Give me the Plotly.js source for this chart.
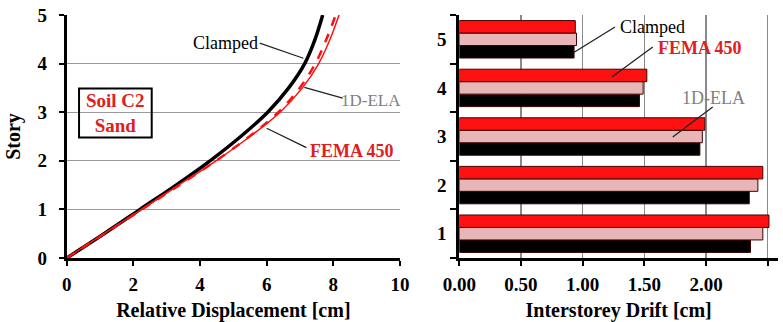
<!DOCTYPE html>
<html><head><meta charset="utf-8">
<script src="https://cdn.plot.ly/plotly-3.0.1.min.js"></script>
<style>html,body{margin:0;padding:0;background:#fff}#chart{width:783px;height:322px}</style>
</head><body><div id="chart"></div>
<script>
// Left panel: relative displacement profile
const stories = [0, 0.5, 1, 1.5, 2, 2.5, 3, 3.5, 4, 4.5, 5];
const dispClamped = [0, 1.12, 2.2, 3.28, 4.3, 5.22, 6.03, 6.66, 7.14, 7.45, 7.68];
const disp1DELA   = [0, 1.12, 2.24, 3.36, 4.48, 5.5, 6.4, 7.07, 7.56, 7.9, 8.17];
const dispFEMA    = [0, 1.13, 2.26, 3.38, 4.48, 5.48, 6.35, 6.99, 7.46, 7.79, 8.07];
// Right panel: interstorey drift
const storyLabels = ['1', '2', '3', '4', '5'];
const driftClamped = [2.36, 2.35, 1.95, 1.46, 0.93];
const drift1DELA   = [2.46, 2.42, 1.97, 1.49, 0.95];
const driftFEMA    = [2.51, 2.46, 1.99, 1.52, 0.94];
const driftTicks = [0, 0.5, 1.0, 1.5, 2.0, 2.5];
const driftTickText = ['0.00', '0.50', '1.00', '1.50', '2.00', '2.50'];

const F = 'Liberation Serif';
const RED = '#ff1010';
const PINK = '#e8b6b6';

const traces = [
  {x: dispClamped, y: stories, type: 'scatter', mode: 'lines', name: 'Clamped',
   line: {color: '#000', width: 3.5, shape: 'spline'}, xaxis: 'x', yaxis: 'y'},
  {x: disp1DELA, y: stories, type: 'scatter', mode: 'lines', name: '1D-ELA',
   line: {color: RED, width: 1.5, shape: 'spline'}, xaxis: 'x', yaxis: 'y'},
  {x: dispFEMA, y: stories, type: 'scatter', mode: 'lines', name: 'FEMA 450',
   line: {color: RED, width: 2.5, dash: 'dash', shape: 'spline'}, xaxis: 'x', yaxis: 'y'},
  {x: driftClamped, y: storyLabels, type: 'bar', orientation: 'h', name: 'Clamped',
   marker: {color: '#000', line: {color: '#300', width: 1}}, xaxis: 'x2', yaxis: 'y2'},
  {x: drift1DELA, y: storyLabels, type: 'bar', orientation: 'h', name: '1D-ELA',
   marker: {color: PINK, line: {color: '#400', width: 1}}, xaxis: 'x2', yaxis: 'y2'},
  {x: driftFEMA, y: storyLabels, type: 'bar', orientation: 'h', name: 'FEMA 450',
   marker: {color: RED, line: {color: '#400', width: 1}}, xaxis: 'x2', yaxis: 'y2'}
];

const tickFont = {family: F, size: 19, color: '#000', weight: 'bold'};
const titleFont = {family: F, size: 20, color: '#000', weight: 'bold'};

const lead = {type: 'line', line: {color: '#222', width: 1.3}};
function leader(xr, yr, x0, y0, x1, y1) {
  return Object.assign({}, lead, {xref: xr, yref: yr, x0, y0, x1, y1});
}

const layout = {
  width: 783, height: 322,
  margin: {l: 0, r: 0, t: 15, b: 64},
  paper_bgcolor: '#fff', plot_bgcolor: '#fff',
  showlegend: false,
  barmode: 'group', bargap: 0.23, bargroupgap: 0,
  font: {family: F},
  xaxis: {domain: [0.0852, 0.5109], range: [0, 10], tickvals: [0, 2, 4, 6, 8, 10],
    showgrid: false, zeroline: false, showline: true, linewidth: 3, linecolor: '#000',
    ticks: 'outside', ticklen: 5, tickwidth: 2, tickcolor: '#000', tickfont: tickFont,
    ticklabelstandoff: 2,
    title: {text: 'Relative Displacement [cm]', font: titleFont, standoff: 17}},
  yaxis: {domain: [0, 1], range: [0, 5], tickvals: [0, 1, 2, 3, 4, 5],
    showgrid: true, gridcolor: '#9a9a9a', gridwidth: 1.2, zeroline: false,
    showline: true, linewidth: 3, linecolor: '#000',
    ticks: 'outside', ticklen: 5, tickwidth: 2, tickcolor: '#000', tickfont: tickFont,
    ticklabelstandoff: 8,
    title: {text: 'Story', font: titleFont, standoff: 12}},
  xaxis2: {domain: [0.5866, 0.9936], range: [0, 2.583], tickvals: driftTicks, ticktext: driftTickText,
    showgrid: true, gridcolor: '#8a8a8a', gridwidth: 1.2, zeroline: false,
    showline: true, linewidth: 3, linecolor: '#000', anchor: 'y2',
    ticks: 'outside', ticklen: 5, tickwidth: 2, tickcolor: '#000', tickfont: tickFont,
    ticklabelstandoff: 2,
    title: {text: 'Interstorey Drift [cm]', font: titleFont, standoff: 17}},
  yaxis2: {domain: [0, 1], type: 'category', categoryorder: 'array', categoryarray: storyLabels,
    anchor: 'x2', tickson: 'boundaries', showgrid: false, zeroline: false,
    showline: true, linewidth: 3, linecolor: '#000',
    ticks: 'outside', ticklen: 6, tickwidth: 2, tickcolor: '#000', tickfont: tickFont,
    ticklabelstandoff: 6},
  shapes: [
    {type: 'rect', xref: 'x', yref: 'y', x0: 0.37, x1: 2.55, y0: 2.48, y1: 3.49,
     line: {color: '#000', width: 2}, fillcolor: 'rgba(0,0,0,0)'},
    leader('x', 'y', 5.79, 4.42, 7.1, 4.11),
    leader('x', 'y', 8.28, 3.29, 7.13, 3.51),
    leader('x', 'y', 7.19, 2.27, 6.0, 2.67),
    leader('x2', 'y2', 1.262, 4.253, 0.921, 3.718),
    leader('x2', 'y2', 1.568, 3.842, 1.237, 3.224),
    leader('x2', 'y2', 2.054, 2.607, 1.73, 1.99)
  ],
  annotations: [
    {xref: 'x', yref: 'y', x: 1.46, y: 2.98, text: 'Soil C2<br>Sand', showarrow: false,
     font: {family: F, size: 19, color: '#e02020', weight: 'bold'}},
    {xref: 'x', yref: 'y', x: 4.77, y: 4.42, text: 'Clamped', showarrow: false,
     font: {family: F, size: 18, color: '#000'}},
    {xref: 'x', yref: 'y', x: 9.13, y: 3.24, text: '1D-ELA', showarrow: false,
     font: {family: F, size: 17, color: '#808080'}},
    {xref: 'x', yref: 'y', x: 8.56, y: 2.21, text: 'FEMA 450', showarrow: false,
     font: {family: F, size: 18, color: '#e02020', weight: 'bold'}},
    {xref: 'x2', yref: 'y2', x: 1.564, y: 4.253, text: 'Clamped', showarrow: false,
     font: {family: F, size: 18, color: '#000'}},
    {xref: 'x2', yref: 'y2', x: 1.95, y: 3.821, text: 'FEMA 450', showarrow: false,
     font: {family: F, size: 18, color: '#e02020', weight: 'bold'}},
    {xref: 'x2', yref: 'y2', x: 2.06, y: 2.792, text: '1D-ELA', showarrow: false,
     font: {family: F, size: 18, color: '#808080'}}
  ]
};

Plotly.newPlot('chart', traces, layout, {displayModeBar: false, staticPlot: true});
</script></body></html>
